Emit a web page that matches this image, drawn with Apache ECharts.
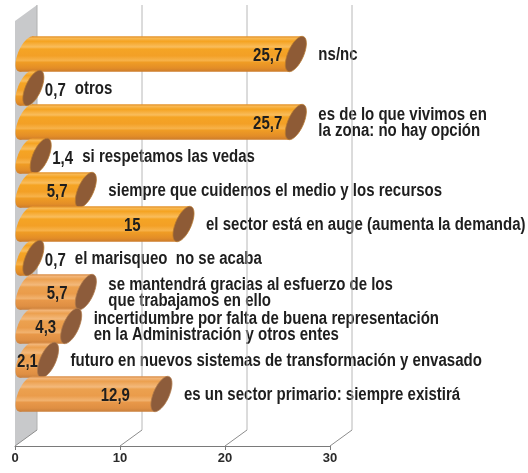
<!DOCTYPE html>
<html>
<head>
<meta charset="utf-8">
<script src="https://cdn.jsdelivr.net/npm/echarts@6/dist/echarts.min.js"></script>
<style>
  html, body { margin: 0; padding: 0; background: #ffffff; }
  #chart { width: 528px; height: 473px; }
</style>
</head>
<body>
<div id="chart"></div>
<script>
// Survey answers (top to bottom) and their percentages
const categories = [
  'ns/nc',
  'otros',
  'es de lo que vivimos en\nla zona: no hay opción',
  'si respetamos las vedas',
  'siempre que cuidemos el medio y los recursos',
  'el sector está en auge (aumenta la demanda)',
  'el marisqueo  no se acaba',
  'se mantendrá gracias al esfuerzo de los\nque trabajamos en ello',
  'incertidumbre por falta de buena representación\nen la Administración y otros entes',
  'futuro en nuevos sistemas de transformación y envasado',
  'es un sector primario: siempre existirá'
];
const values = [25.7, 0.7, 25.7, 1.4, 5.7, 15, 0.7, 5.7, 4.3, 2.1, 12.9];
const tickValues = [0, 10, 20, 30];

// 3D look: depth offset of the back plane, cylinder geometry
const DEPTH_X = 22, DEPTH_Y = -16;
const CAP_RX = 7.8, CAP_RY = 19, CAP_ROT = 24 * Math.PI / 180;
const FLOOR_OFFSET = 35;      // front floor edge below the plot band
const WALL_TOP_OFFSET = 32;   // back wall top above the plot band
const FONT = 'bold 18px "Liberation Sans", Arial, sans-serif';
const TEXT_SCALE_X = 0.834;   // condensed lettering
const PALE_FROM = 7;          // lower bars use the paler orange

const fmt = v => String(v).replace('.', ',');

function ellipsePoints(cx, cy, rx, ry, rot) {
  const pts = [];
  const c = Math.cos(rot), s = Math.sin(rot);
  for (let k = 0; k < 72; k++) {
    const t = k / 72 * Math.PI * 2;
    const ex = rx * Math.cos(t), ey = ry * Math.sin(t);
    // tilted so that the top leans to the right
    pts.push([cx + ex * c - ey * s, cy + ex * s + ey * c]);
  }
  return pts;
}
function capHalfExtentX() {
  const c = Math.cos(CAP_ROT), s = Math.sin(CAP_ROT);
  return Math.sqrt(Math.pow(CAP_RX * c, 2) + Math.pow(CAP_RY * s, 2));
}
function capHalfExtentY() {
  const c = Math.cos(CAP_ROT), s = Math.sin(CAP_ROT);
  return Math.sqrt(Math.pow(CAP_RX * s, 2) + Math.pow(CAP_RY * c, 2));
}
function capTopShift() {
  const c = Math.cos(CAP_ROT), s = Math.sin(CAP_ROT);
  return (CAP_RY * CAP_RY - CAP_RX * CAP_RX) * s * c / capHalfExtentY();
}

function bodyGradient(pale) {
  const stops = pale ? [
    [0, '#d98c45'], [0.06, '#f2b577'], [0.14, '#eca04f'], [0.3, '#f3b97c'],
    [0.36, '#eca14f'], [0.55, '#ea9c4b'], [0.68, '#f1b26f'], [0.74, '#e89849'],
    [0.9, '#df8f43'], [1, '#c97f3c']
  ] : [
    [0, '#e39128'], [0.06, '#f8b74f'], [0.14, '#f5a321'], [0.3, '#f9bd5c'],
    [0.36, '#f5a424'], [0.55, '#f3a026'], [0.68, '#f7b24a'], [0.74, '#ef9c25'],
    [0.9, '#e38d27'], [1, '#cc7c2b']
  ];
  return new echarts.graphic.LinearGradient(0, 0, 0, 1,
    stops.map(s => ({ offset: s[0], color: s[1] })));
}

function textEl(text, x, y, align) {
  return {
    type: 'text',
    x: x, y: y,
    scaleX: TEXT_SCALE_X,
    style: { text: text, x: 0, y: 0, fill: '#1e1e1e', font: FONT, align: align, verticalAlign: 'middle', lineHeight: 16 }
  };
}

const chart = echarts.init(document.getElementById('chart'), null, { renderer: 'canvas' });

function plotGeom(api, idx, v) {
  const p0 = api.coord([0, idx]);
  const p = api.coord([v, idx]);
  const hx = capHalfExtentX();
  const midX = DEPTH_X / 2;
  return {
    x0: p0[0],
    yc: p[1],
    leftCx: p0[0] + midX,
    capCx: p[0] + midX,
    capRight: p[0] + midX + hx,
    capLeft: p[0] + midX - hx
  };
}
// value text goes inside the cylinder unless the bar is too short
function labelInside(g) { return (g.capLeft - g.leftCx) > 8; }

const maxValue = Math.max.apply(null, values);

const option = {
  animation: false,
  grid: { left: 15, width: 315, top: 37, bottom: 62, containLabel: false },
  xAxis: {
    type: 'value', min: 0, max: 30, interval: 10,
    offset: FLOOR_OFFSET,
    axisLine: { show: true, lineStyle: { color: '#7a7a7a', width: 1 } },
    axisTick: { show: true, length: 4, lineStyle: { color: '#7a7a7a' } },
    axisLabel: { color: '#2a2a2a', fontWeight: 'bold', fontSize: 13, margin: 6,
      fontFamily: '"Liberation Sans", Arial, sans-serif' },
    splitLine: { show: false }
  },
  yAxis: { type: 'category', data: categories, inverse: true, show: false },
  series: [
    {
      // side wall
      type: 'custom', z: 1, silent: true,
      data: [[0]],
      renderItem: function (params, api) {
        const cs = params.coordSys;
        const x0 = api.coord([0, 0])[0];
        const floorY = cs.y + cs.height + FLOOR_OFFSET;
        const topY = cs.y - WALL_TOP_OFFSET;
        return {
          type: 'polygon',
          shape: { points: [[x0, floorY], [x0 + DEPTH_X, floorY + DEPTH_Y], [x0 + DEPTH_X, topY], [x0, topY - DEPTH_Y]] },
          style: { fill: '#c8c9cb', stroke: null }
        };
      }
    },
    {
      // answer texts
      type: 'custom', z: 2, silent: true,
      data: values.map((v, i) => [v, i]),
      encode: { x: 0, y: 1 },
      renderItem: function (params, api) {
        const v = api.value(0), idx = api.value(1);
        const g = plotGeom(api, idx, v);
        const x = labelInside(g) ? g.capRight + 12 : g.capRight + 31;
        return textEl(categories[idx], x, g.yc + 1, 'left');
      }
    },
    {
      // back wall grid lines and floor diagonals
      type: 'custom', z: 3, silent: true,
      data: tickValues.map(t => [t]),
      renderItem: function (params, api) {
        const cs = params.coordSys;
        const t = api.value(0);
        const x = api.coord([t, 0])[0];
        const floorY = cs.y + cs.height + FLOOR_OFFSET;
        const topY = cs.y - WALL_TOP_OFFSET;
        return {
          type: 'group',
          children: [{
            type: 'line',
            shape: { x1: x, y1: floorY, x2: x + DEPTH_X, y2: floorY + DEPTH_Y },
            style: { stroke: '#8c8c8c', lineWidth: 1 }
          }, {
            type: 'line',
            shape: { x1: x + DEPTH_X, y1: floorY + DEPTH_Y, x2: x + DEPTH_X, y2: topY },
            style: { stroke: t === 0 ? '#b0b0b0' : '#b8b8b8', lineWidth: 1 }
          }]
        };
      }
    },
    {
      // cylinders
      type: 'custom', z: 4, silent: true,
      data: values.map((v, i) => [v, i]),
      encode: { x: 0, y: 1 },
      renderItem: function (params, api) {
        const v = api.value(0), idx = api.value(1);
        const g = plotGeom(api, idx, v);
        const pale = idx >= PALE_FROM;
        const hy = capHalfExtentY();
        const sh = capTopShift();
        const top = g.yc - hy, bot = g.yc + hy;
        const grad = bodyGradient(pale);
        const children = [];
        children.push({
          type: 'polygon',
          shape: { points: ellipsePoints(g.leftCx, g.yc, CAP_RX, CAP_RY, CAP_ROT) },
          style: { fill: grad }
        });
        children.push({
          type: 'polygon',
          shape: { points: [[g.leftCx + sh, top], [g.capCx + sh, top], [g.capCx - sh, bot], [g.leftCx - sh, bot]] },
          style: { fill: grad }
        });
        children.push({
          type: 'polygon',
          shape: { points: ellipsePoints(g.capCx, g.yc, CAP_RX, CAP_RY, CAP_ROT) },
          style: { fill: pale ? '#8d5c3b' : '#8e5b36', stroke: pale ? '#b07a4a' : '#b8782f', lineWidth: 0.8 }
        });
        const label = fmt(v);
        if (labelInside(g)) {
          if (v === maxValue) {
            children.push(textEl(label, g.capLeft - 3, g.yc + 2, 'right'));
          } else {
            const cx = Math.min(api.coord([v * 0.77, idx])[0] - 4, g.capLeft - 10);
            children.push(textEl(label, cx, g.yc + 2, 'center'));
          }
        } else {
          children.push(textEl(label, g.capRight + 1, g.yc + 3, 'left'));
        }
        return { type: 'group', children: children };
      }
    }
  ]
};

chart.setOption(option);
</script>
</body>
</html>
